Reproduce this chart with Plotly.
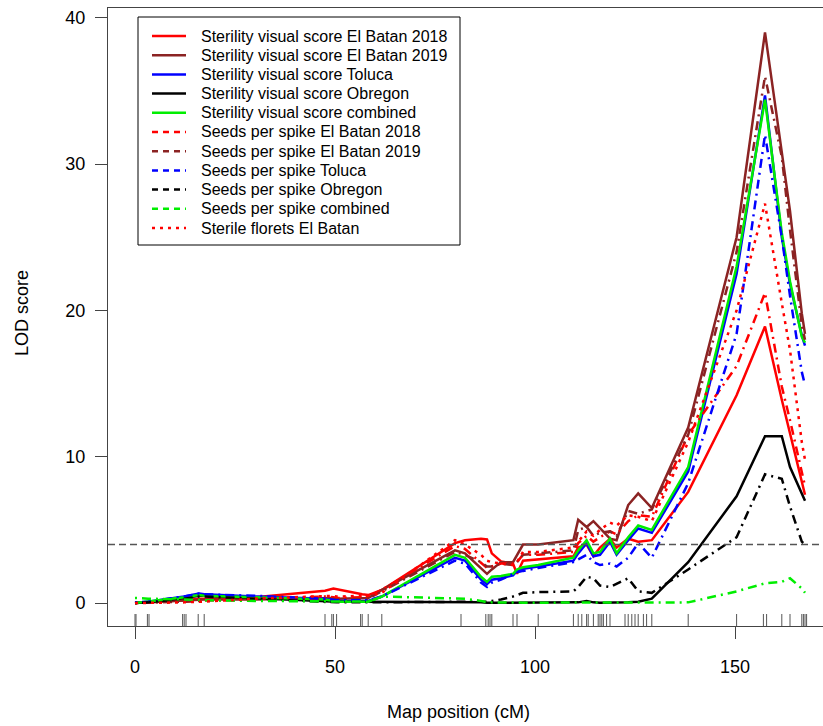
import plotly.graph_objects as go

# ---------------- data ----------------
POS = [0, 3.3, 12.3, 16.0, 17.3, 30.0, 47.5, 49.6, 50.4, 56.8, 58.3, 61.7, 80.0, 82.5, 86.5,
       88.0, 89.2, 91.5, 94.5, 95.5, 97.0, 100.8, 109.6, 110.8, 112.9, 114.6, 116.25, 118.75,
       120.4, 123.3, 125.8, 129.2, 138.3, 150.4, 157.5, 161.7, 163.75, 166.7, 167.5]

SVS_EB2018 = [0, 0.05, 0.2, 0.3, 0.3, 0.4, 0.85, 1.0, 0.95, 0.6, 0.55, 0.9, 4.1, 4.3, 4.4,
              4.35, 3.4, 2.85, 2.7, 2.0, 2.9, 3.0, 3.2, 3.8, 4.0, 3.2, 3.8, 4.4,
              3.8, 4.4, 4.2, 4.3, 7.6, 14.2, 18.9, 13.9, 11.6, 8.4, 7.4]
SVS_EB2019 = [0, 0.05, 0.15, 0.25, 0.25, 0.25, 0.3, 0.35, 0.3, 0.3, 0.35, 0.9, 3.6, 3.4, 2.4,
              2.0, 2.3, 2.8, 2.8, 3.3, 4.0, 4.0, 4.3, 5.7, 5.2, 5.6, 5.1, 4.4,
              4.3, 6.7, 7.5, 6.5, 12.0, 25.0, 39.0, 31.0, 26.8, 19.8, 18.4]
SVS_TOLUCA = [0, 0.1, 0.45, 0.65, 0.6, 0.45, 0.3, 0.2, 0.15, 0.15, 0.15, 0.45, 3.1, 2.9, 1.6,
              1.3, 1.6, 1.7, 1.9, 2.2, 2.35, 2.5, 2.9, 3.4, 4.1, 3.2, 3.3, 4.2,
              3.3, 4.3, 5.1, 4.8, 9.0, 22.5, 34.7, 25.0, 21.8, 18.3, 17.6]
SVS_OBREGON = [0, 0.05, 0.35, 0.5, 0.5, 0.35, 0.15, 0.1, 0.1, 0.1, 0.1, 0.1, 0.05, 0.05, 0.05,
               0.02, 0.02, 0.02, 0.02, 0.02, 0.02, 0.02, 0.03, 0.05, 0.15, 0.05, 0.03, 0.03,
               0.03, 0.05, 0.1, 0.3, 2.8, 7.3, 11.4, 11.4, 9.3, 7.5, 7.0]
SVS_COMBINED = [0, 0.1, 0.4, 0.55, 0.5, 0.4, 0.25, 0.15, 0.1, 0.1, 0.1, 0.45, 3.3, 3.1, 1.8,
                1.45, 1.8, 1.85, 2.0, 2.3, 2.45, 2.6, 3.1, 3.6, 4.3, 3.4, 3.5, 4.4,
                3.4, 4.5, 5.3, 5.0, 9.3, 23.0, 34.4, 25.3, 22.0, 18.2, 17.8]
SPS_EB2018 = [0.05, 0.05, 0.1, 0.15, 0.2, 0.3, 0.45, 0.4, 0.35, 0.4, 0.45, 0.9, 3.9, 3.7, 2.8,
              2.4, 2.5, 2.7, 2.7, 2.8, 3.3, 3.3, 3.5, 4.1, 4.6, 4.2, 4.5, 4.9,
              4.7, 5.6, 6.0, 5.9, 11.5, 16.2, 21.2, 14.8, 12.5, 8.8, 8.0]
SPS_EB2019 = [0, 0.05, 0.1, 0.2, 0.2, 0.2, 0.25, 0.3, 0.25, 0.3, 0.3, 0.8, 3.5, 3.3, 2.8,
              2.5, 2.5, 2.7, 2.6, 2.8, 3.3, 3.4, 3.6, 5.0, 5.2, 4.6, 4.8, 4.9,
              4.6, 6.3, 6.1, 6.4, 11.5, 24.0, 36.0, 30.5, 25.5, 19.0, 18.0]
SPS_TOLUCA = [0.05, 0.1, 0.45, 0.65, 0.6, 0.5, 0.3, 0.25, 0.2, 0.2, 0.2, 0.45, 2.9, 2.7, 1.4,
              1.1, 1.4, 1.6, 2.0, 2.1, 2.2, 2.4, 2.8, 3.0, 3.3, 2.8, 2.6, 2.7,
              2.5, 3.1, 4.1, 3.1, 8.2, 18.4, 32.0, 25.0, 21.0, 15.8, 14.9]
SPS_OBREGON = [0, 0.05, 0.3, 0.45, 0.45, 0.3, 0.1, 0.1, 0.05, 0.05, 0.05, 0.05, 0.05, 0.05, 0.05,
               0.1, 0.15, 0.25, 0.45, 0.55, 0.7, 0.75, 0.8, 1.1, 1.8, 1.7, 1.2, 1.1,
               1.3, 1.7, 0.8, 0.7, 2.3, 4.5, 8.8, 8.5, 6.6, 4.2, 4.0]
SPS_COMBINED = [0.35, 0.3, 0.25, 0.25, 0.2, 0.15, 0.1, 0.1, 0.1, 0.1, 0.1, 0.45, 0.35, 0.3, 0.15,
                0.05, 0.05, 0.03, 0.03, 0.03, 0.03, 0.03, 0.03, 0.03, 0.05, 0.03, 0.03, 0.03,
                0.03, 0.03, 0.03, 0.05, 0.05, 0.8, 1.35, 1.45, 1.7, 1.0, 0.7]
SF_EB = [0, 0, 0.05, 0.1, 0.1, 0.3, 0.45, 0.5, 0.45, 0.45, 0.5, 0.7, 4.3, 4.0, 3.3,
         2.9, 2.8, 2.7, 2.6, 2.8, 3.5, 3.5, 3.8, 4.2, 4.9, 4.6, 5.0, 5.5,
         5.3, 6.0, 5.9, 5.6, 11.0, 20.0, 27.3, 20.5, 17.3, 11.0, 9.8]

MARKERS = [0, 0.25, 3.1, 3.5, 11.9, 12.3, 12.75, 15.8, 17.3, 47.5, 49.2, 49.6, 50.4, 56.4, 56.8,
           58.3, 61.7, 81.5, 87.7, 88.3, 88.75, 89.2, 94.5, 95.5, 100.8, 109.6, 110.8, 111.7,
           112.9, 113.3, 114.6, 115.8, 116.25, 116.7, 117.1, 117.9, 118.75, 122.5, 123.3, 124.2,
           125.0, 125.8, 127.1, 127.9, 129.2, 138.3, 150.4, 157.1, 157.9, 161.7, 163.75, 166.7,
           167.1, 167.5, 167.9]

LOD_THRESHOLD = 4.0
X_TICKS = [0, 50, 100, 150]
Y_TICKS = [0, 10, 20, 30, 40]

NAMES = ["Sterility visual score El Batan 2018", "Sterility visual score El Batan 2019",
         "Sterility visual score Toluca", "Sterility visual score Obregon",
         "Sterility visual score combined", "Seeds per spike El Batan 2018",
         "Seeds per spike El Batan 2019", "Seeds per spike Toluca", "Seeds per spike Obregon",
         "Seeds per spike combined", "Sterile florets El Batan"]
VALUES = [SVS_EB2018, SVS_EB2019, SVS_TOLUCA, SVS_OBREGON, SVS_COMBINED,
          SPS_EB2018, SPS_EB2019, SPS_TOLUCA, SPS_OBREGON, SPS_COMBINED, SF_EB]

# ---------------- styling ----------------
RED, BROWN, BLUE, BLACK, GREEN = "#FF0000", "#8B2323", "#0000FF", "#000000", "#00EE00"
COLORS = [RED, BROWN, BLUE, BLACK, GREEN, RED, BROWN, BLUE, BLACK, GREEN, RED]
DOTDASH = "2px,5px,9px,5px"
DOTTED = "3px,5px"
LEG_DASHED = "6px,5px"
DASHES = ["solid"] * 5 + [DOTDASH] * 5 + [DOTTED]
LEG_DASHES = ["solid"] * 5 + [LEG_DASHED] * 5 + ["3px,5px"]

W, H = 823, 726
ML, MT, MB, MR = 108, 8, 100, 0
PW, PH = W - ML - MR, H - MT - MB
FONT = "Liberation Sans, Arial, sans-serif"


def px_x(p):
    return (p - ML) / PW


def px_y(p):
    return (MT + PH - p) / PH


fig = go.Figure()
for name, vals, col, dash in zip(NAMES, VALUES, COLORS, DASHES):
    assert len(vals) == len(POS)
    fig.add_trace(go.Scatter(x=POS, y=vals, mode="lines", name=name, showlegend=False,
                             line=dict(color=col, width=2.5, dash=dash)))

fig.add_hline(y=LOD_THRESHOLD, line=dict(color="#555555", width=1.5, dash="7px,4px"))

for m in MARKERS:
    fig.add_shape(type="line", xref="x", yref="paper", x0=m, x1=m, y0=0, y1=12 / PH,
                  line=dict(color="#555555", width=1))

# legend (drawn as a boxed key, matching the R-style legend)
fig.add_shape(type="rect", xref="paper", yref="paper", x0=px_x(138), x1=px_x(460),
              y0=px_y(245), y1=px_y(17), line=dict(color="black", width=1), fillcolor="white")
for i, (name, col, dash) in enumerate(zip(NAMES, COLORS, LEG_DASHES)):
    yc = px_y(36 + 19.2 * i)
    fig.add_shape(type="line", xref="paper", yref="paper", x0=px_x(152), x1=px_x(186),
                  y0=yc, y1=yc, line=dict(color=col, width=2.5, dash=dash))
    fig.add_annotation(text=name, xref="paper", yref="paper", x=px_x(199), y=yc,
                       xanchor="left", yanchor="middle", showarrow=False,
                       font=dict(size=16, family=FONT, color="black"))

fig.add_annotation(text="Map position (cM)", xref="paper", yref="paper",
                   x=px_x(458), y=px_y(712), showarrow=False,
                   xanchor="center", yanchor="middle", font=dict(size=18, color="black", family=FONT))
fig.add_annotation(text="LOD score", xref="paper", yref="paper",
                   x=px_x(22), y=px_y(313), showarrow=False, textangle=-90,
                   xanchor="center", yanchor="middle", font=dict(size=18, color="black", family=FONT))

fig.update_layout(
    width=W, height=H, margin=dict(l=ML, r=MR, t=MT, b=MB, autoexpand=False),
    paper_bgcolor="white", plot_bgcolor="white",
    font=dict(family=FONT, size=18, color="black"),
    showlegend=False,
    xaxis=dict(range=[-6.75, 172], tickvals=X_TICKS, ticks="outside", ticklen=12,
               tickcolor="#444444", showline=True, mirror=True, linecolor="#444444",
               linewidth=1, showgrid=False, zeroline=False, ticklabelstandoff=12,
               tickfont=dict(size=18, family=FONT, color="black")),
    yaxis=dict(range=[-1.565, 40.67], tickvals=Y_TICKS, ticks="outside", ticklen=12,
               tickcolor="#444444", showline=True, mirror=False, linecolor="#444444",
               linewidth=1, showgrid=False, zeroline=False, ticklabelstandoff=6,
               tickfont=dict(size=18, family=FONT, color="black")),
)

fig.write_html("out.html")
